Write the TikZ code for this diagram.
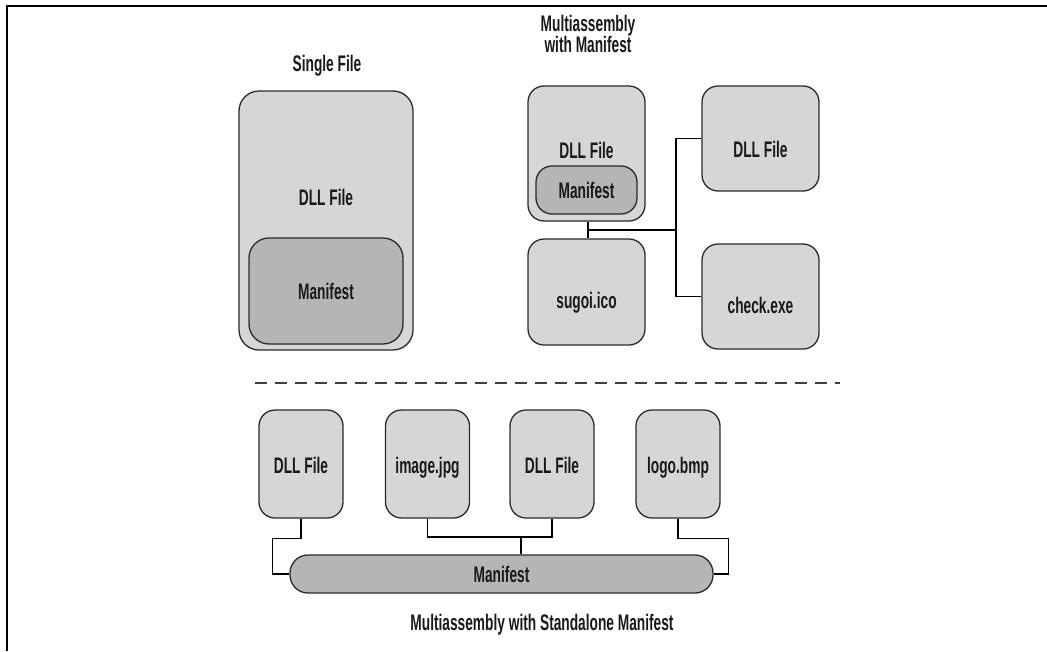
\documentclass[tikz,border=0pt]{standalone}
\usepackage{fontspec}
\setmainfont{Liberation Sans}[FakeStretch=0.61]
\begin{document}
\begin{tikzpicture}[x=1pt,y=-1pt,
  filebox/.style={draw=boxline, line width=1.3pt, fill=boxgray, rounded corners=16pt, inner sep=0pt},
  manbox/.style={draw=boxline, line width=1.3pt, fill=mangray, rounded corners=16pt, inner sep=0pt},
  lbl/.style={font=\fontsize{22.5}{22.5}\selectfont\bfseries, text=black!90, inner sep=0pt, anchor=base},
  conn/.style={draw=black, line width=1.1pt},
]
\definecolor{boxgray}{HTML}{D6D6D6}
\definecolor{mangray}{HTML}{B5B5B5}
\definecolor{boxline}{HTML}{2A2A2A}
\useasboundingbox (0,0) rectangle (1047,651);

% frame
\draw[line width=2pt] (7,651) -- (7,6) -- (1047,6);

% titles
\node[lbl] (tsingle) at (327,71) {Single File};
\node[lbl] (tmulti1) at (588,31) {Multiassembly};
\node[lbl] (tmulti2) at (588,52) {with Manifest};
\node[lbl] (tstand) at (542,630) {Multiassembly with Standalone Manifest};

% single file assembly
\node[filebox, minimum width=174pt, minimum height=259pt, rounded corners=20pt] (sdll) at (326,220.5) {};
\node[manbox, minimum width=154pt, minimum height=106pt, rounded corners=20pt] (sman) at (326,291) {};
\node[lbl] (sdlltxt) at (326,205) {DLL File};
\node[lbl] (smantxt) at (326,299) {Manifest};

% multiassembly with manifest
\node[filebox, minimum width=117pt, minimum height=135pt] (mdll) at (586.5,153.5) {};
\node[manbox, minimum width=101pt, minimum height=48pt] (mman) at (586.5,190) {};
\node[lbl] (mdlltxt) at (586.5,158) {DLL File};
\node[lbl] (mmantxt) at (586.5,198) {Manifest};
\node[filebox, minimum width=117pt, minimum height=106pt] (sugoi) at (586.5,292) {};
\node[lbl] (sugoitxt) at (586.5,308) {sugoi.ico};
\node[filebox, minimum width=117pt, minimum height=105pt] (rdll) at (760.5,138.5) {};
\node[lbl] (rdlltxt) at (760.5,157) {DLL File};
\node[filebox, minimum width=117pt, minimum height=105pt] (check) at (760.5,296.5) {};
\node[lbl] (checktxt) at (760.5,313) {check.exe};

\coordinate (ja) at (588,230);
\coordinate (jb) at (676,230);
\draw[conn] (ja |- mdll.south) -- (ja |- sugoi.north);
\draw[conn] (ja) -- (jb);
\draw[conn] (rdll.west) -| (jb);
\draw[conn] (check.west) -| (jb);

% separator
\draw[line width=1.2pt, draw=black!75, dash pattern=on 12pt off 8pt] (255,383) -- (840,383);

% multiassembly with standalone manifest
\node[filebox, minimum width=84pt, minimum height=108pt] (b1) at (301,464) {};
\node[filebox, minimum width=84pt, minimum height=108pt] (b2) at (427.5,464) {};
\node[filebox, minimum width=84pt, minimum height=108pt] (b3) at (552,464) {};
\node[filebox, minimum width=84pt, minimum height=108pt] (b4) at (678,464) {};
\node[lbl] (b1txt) at (301,473) {DLL File};
\node[lbl] (b2txt) at (427.5,473) {image.jpg};
\node[lbl] (b3txt) at (552,473) {DLL File};
\node[lbl] (b4txt) at (678,473) {logo.bmp};
\node[manbox, minimum width=423pt, minimum height=38pt, rounded corners=18pt] (bman) at (501.5,574) {};
\node[lbl] (bmantxt) at (501.5,582) {Manifest};

\coordinate (jc) at (521,537);
\draw[conn] (b1.south) -- ++(0,20) -| ([xshift=-17pt]bman.west) -- (bman.west);
\draw[conn] (b4.south) -- ++(0,20) -| ([xshift=15pt]bman.east) -- (bman.east);
\draw[conn] (b2.south) |- (jc) -| (b3.south);
\draw[conn] (jc) -- (jc |- bman.north);
\end{tikzpicture}
\end{document}
